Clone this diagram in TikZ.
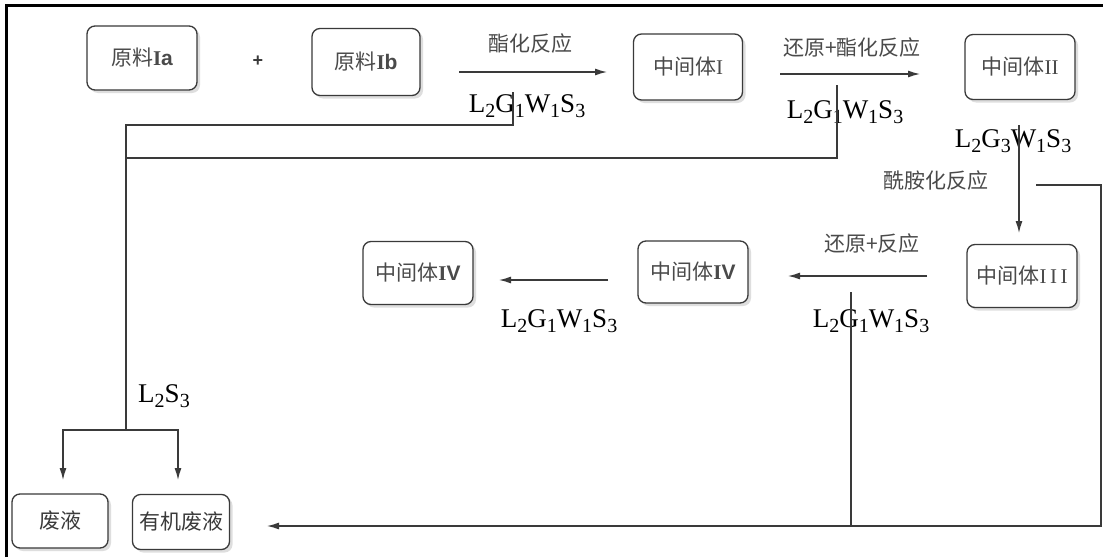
\documentclass[tikz,border=0pt]{standalone}
\usepackage{fontspec}
\setmainfont{Liberation Serif}
\newfontfamily\cjk{Noto Sans CJK SC}
\newfontfamily\lsans{Liberation Sans}
\usetikzlibrary{arrows.meta,shadows}
\definecolor{ln}{HTML}{3A3A3A}
\definecolor{tx}{HTML}{4A4A4A}
\newcommand{\sbx}[1]{\raisebox{-0.2em}{\fontsize{20}{20}\selectfont #1}}
\newcommand{\bsa}[1]{{\lsans\bfseries #1}}
\tikzset{
  box/.style={draw=ln, line width=1.3pt, rounded corners=8pt, fill=white,
    drop shadow={shadow xshift=3pt, shadow yshift=-3pt, fill=black!25},
    text=tx, font=\fontsize{21}{21}\selectfont, inner sep=0pt,
    minimum width=110pt, minimum height=64pt},
  lbl/.style={text=tx, font=\cjk\fontsize{21}{21}\selectfont, inner sep=0pt},
  frm/.style={text=black, font=\fontsize{27}{27}\selectfont, inner sep=0pt, anchor=base},
  flow/.style={draw=ln, line width=1.3pt},
  arr/.style={flow, -{Latex[length=12pt,width=7pt]}}
}
\begin{document}
\begin{tikzpicture}[x=1pt,y=-1pt]
\useasboundingbox (0,0) rectangle (1103,557);
\fill[white] (0,0) rectangle (1103,557);
% frame
\draw[line width=3pt, black] (6,557) -- (6,5) -- (1103,5);

% boxes
\node[box] (ia) at (142,58) {{\cjk 原料}\textbf{I}\bsa{a}};
\node[box, minimum width=108pt, minimum height=67pt] (ib) at (366,62) {{\cjk 原料}\textbf{I}\bsa{b}};
\node[text=ln, font=\lsans\bfseries\fontsize{18}{18}\selectfont, inner sep=0pt] (plus) at (258,61) {+};
\node[box, minimum width=109pt, minimum height=66pt] (m1) at (688,67) {{\cjk 中间体}I};
\node[box, minimum height=65pt] (m2) at (1020,67) {{\cjk 中间体}II};
\node[box, minimum height=63pt] (m3) at (1022,276) {{\cjk 中间体}I\,I\,I};
\node[box, minimum height=62pt] (m4) at (693,272) {{\cjk 中间体}\textbf{I}\bsa{V}};
\node[box, minimum height=63pt] (m5) at (418,273) {{\cjk 中间体}\textbf{I}\bsa{V}};
\node[box, minimum width=96pt, minimum height=54pt, text=ln] (w1) at (60,521) {\cjk 废液};
\node[box, minimum width=97pt, minimum height=55pt, text=ln] (w2) at (181,522) {\cjk 有机废液};

% reaction labels
\node[lbl] (l1) at (530,44) {酯化反应};
\node[lbl] (l2) at (852,48) {还原+酯化反应};
\node[lbl] (l3) at (936,181) {酰胺化反应};
\node[lbl] (l4) at (872,244) {还原+反应};

% formulas
\node[frm] (f1) at (527,112) {L\sbx{2}G\sbx{1}W\sbx{1}S\sbx{3}};
\node[frm] (f2) at (845,118) {L\sbx{2}G\sbx{1}W\sbx{1}S\sbx{3}};
\node[frm] (f3) at (1013,147) {L\sbx{2}G\sbx{3}W\sbx{1}S\sbx{3}};
\node[frm] (f4) at (871,327) {L\sbx{2}G\sbx{1}W\sbx{1}S\sbx{3}};
\node[frm] (f5) at (559,327) {L\sbx{2}G\sbx{1}W\sbx{1}S\sbx{3}};
\node[frm] (f6) at (164,402) {L\sbx{2}S\sbx{3}};

% arrow coordinates
\coordinate (a1s) at (459,72);  \coordinate (a1e) at (607,72);
\coordinate (a2s) at (780,74);  \coordinate (a2e) at (920,74);
\coordinate (d1) at (1019,125); \coordinate (d2) at (1019,233);
\coordinate (a3s) at (927,276); \coordinate (a3e) at (788,276);
\coordinate (a4s) at (608,280); \coordinate (a4e) at (499,280);

\draw[arr] (a1s) -- (a1e);
\draw[arr] (a2s) -- (a2e);
\draw[arr] (d1) -- (d2);
\draw[arr] (a3s) -- (a3e);
\draw[arr] (a4s) -- (a4e);

% waste collection lines
\coordinate (t1) at (513,92);
\coordinate (t2) at (837,85);
\coordinate (k1) at (126,125);
\coordinate (k2) at (126,158);
\coordinate (sp) at (126,430);
\coordinate (e1) at (63,480);
\coordinate (e2) at (178,480);
\draw[flow] (t1) |- (k1) -- (sp);
\draw[flow] (t2) |- (k2);
\draw[arr] (sp) -| (e1);
\draw[arr] (sp) -| (e2);

% organic waste loop
\coordinate (r1) at (1036,185);
\coordinate (r2) at (1101,526);
\coordinate (bt) at (267,526);
\coordinate (v1) at (851,292);
\coordinate (v2) at (851,526);
\draw[arr] (r1) -| (r2) -- (bt);
\draw[flow] (v1) -- (v2);
\end{tikzpicture}
\end{document}
